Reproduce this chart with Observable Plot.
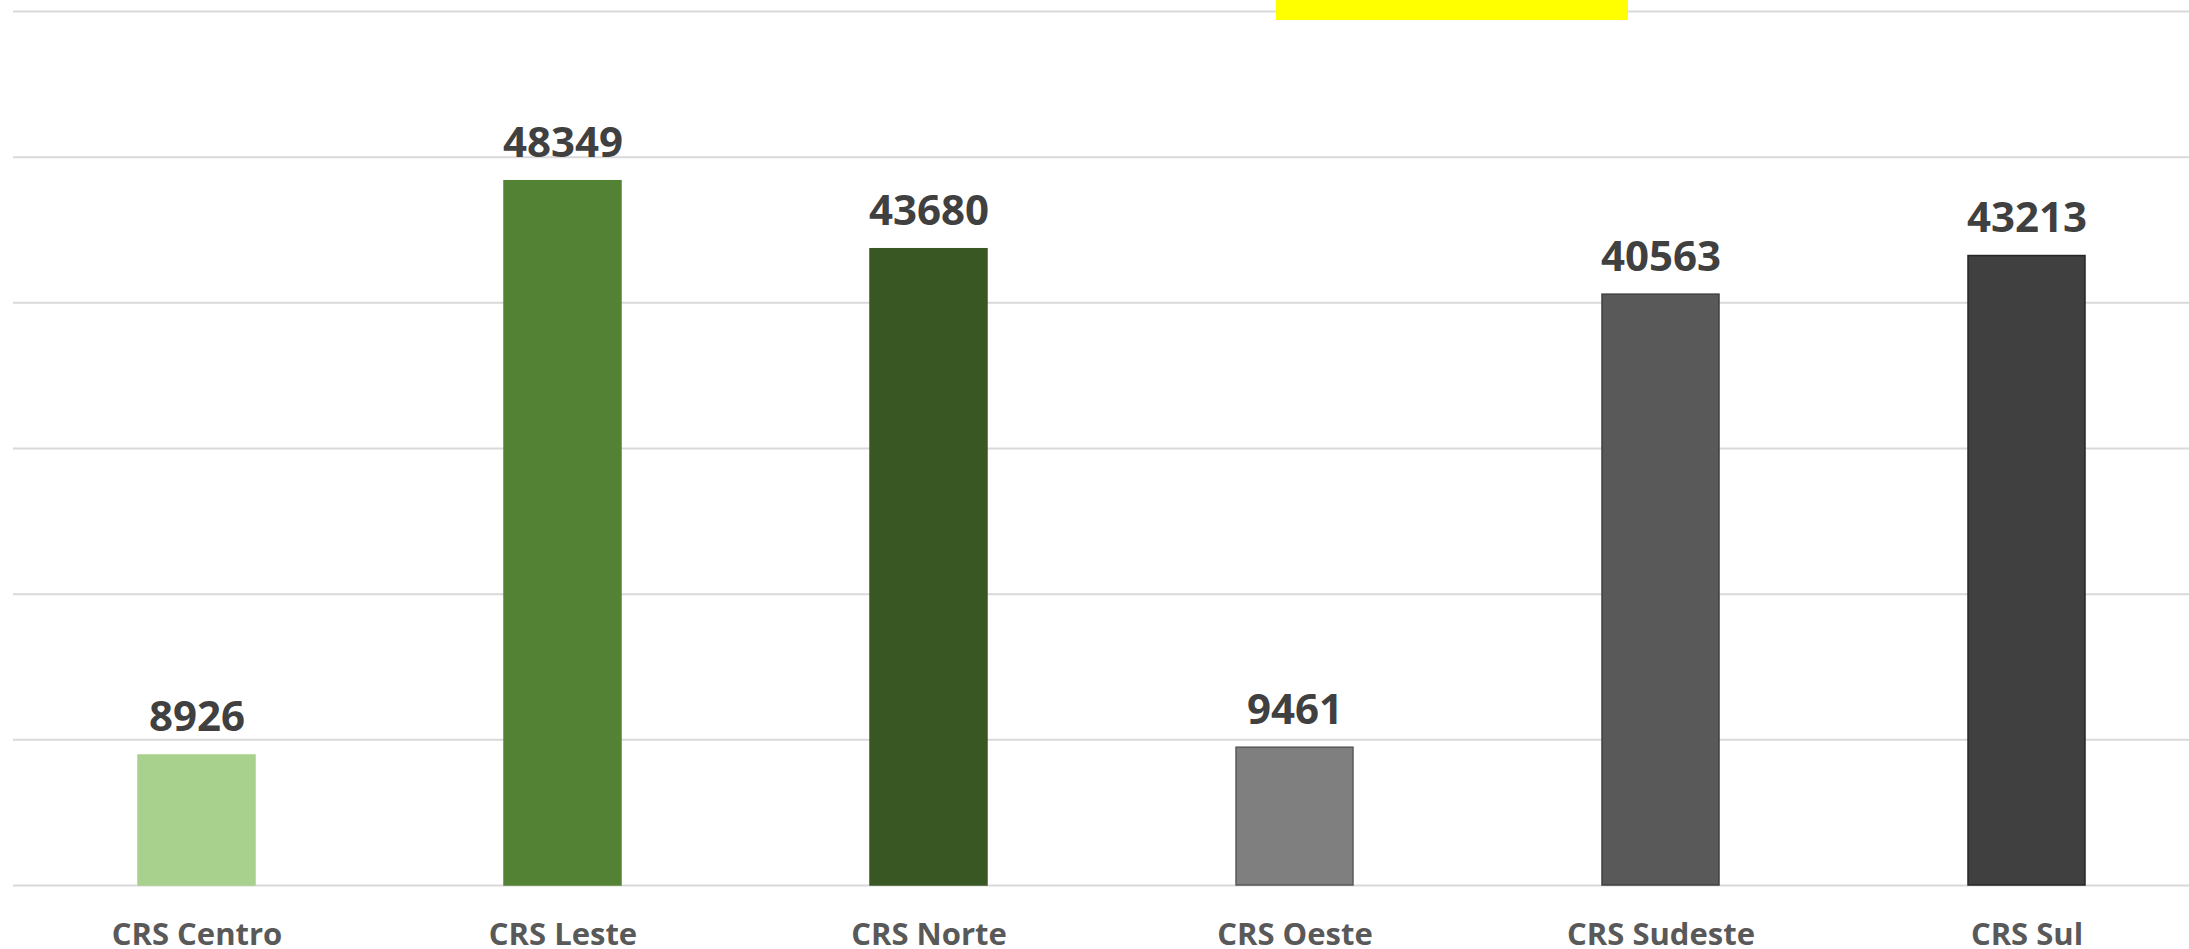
<!DOCTYPE html>
<html>
<head>
<meta charset="utf-8">
<script src="https://cdn.jsdelivr.net/npm/d3@7"></script>
<script src="https://cdn.jsdelivr.net/npm/@observablehq/plot@0.6"></script>
<style>
  html, body { margin: 0; padding: 0; background: #fff; overflow: hidden; }
  #wrap { position: relative; width: 2189px; height: 949px; }
  #highlight { position: absolute; left: 1276px; top: 0; width: 352px; height: 20px; background: #FFFF00; z-index: 2; }
  #chart svg { font-family: "Open Sans", sans-serif; }
  #chart g[aria-label="x-axis tick label"] text { font-weight: bold; }
</style>
</head>
<body>
<div id="wrap">
  <div id="highlight"></div>
  <div id="chart"></div>
</div>
<script>
const categories = ["CRS Centro", "CRS Leste", "CRS Norte", "CRS Oeste", "CRS Sudeste", "CRS Sul"];
const values = [8926, 48349, 43680, 9461, 40563, 43213];
const fills = ["#A9D18E", "#548235", "#385723", "#7F7F7F", "#595959", "#404040"];
const strokes = ["#A9D18E", "#548235", "#385723", "#595959", "#404040", "#262626"];
const gridTicks = [0, 10000, 20000, 30000, 40000, 50000, 60000];

const data = categories.map((c, i) => ({cat: c, value: values[i], fill: fills[i], stroke: strokes[i]}));

const chart = Plot.plot({
  width: 2189,
  height: 949,
  marginTop: 11,
  marginBottom: 64,
  marginLeft: 13,
  marginRight: 0,
  style: {background: "#fff", fontFamily: "Open Sans, sans-serif"},
  x: {domain: categories, range: [13, 2210], paddingInner: 0.68, paddingOuter: 0.34, label: null},
  y: {domain: [0, 60000], label: null},
  marks: [
    Plot.ruleY(gridTicks, {stroke: "#D9D9D9", strokeWidth: 2}),
    Plot.barY(data, {x: "cat", y: "value", fill: d => d.fill, stroke: d => d.stroke, strokeWidth: 1.5}),
    Plot.text(data, {x: "cat", y: "value", text: d => String(d.value), dy: -24, lineAnchor: "bottom", fontSize: 42, fontWeight: "bold", fill: "#404040"}),
    Plot.axisX({tickSize: 0, tickPadding: 37, fontSize: 31, fontWeight: "bold", color: "#595959", label: null}),
    Plot.axisY({ticks: [], label: null})
  ]
});
document.getElementById("chart").appendChild(chart);
</script>
</body>
</html>
